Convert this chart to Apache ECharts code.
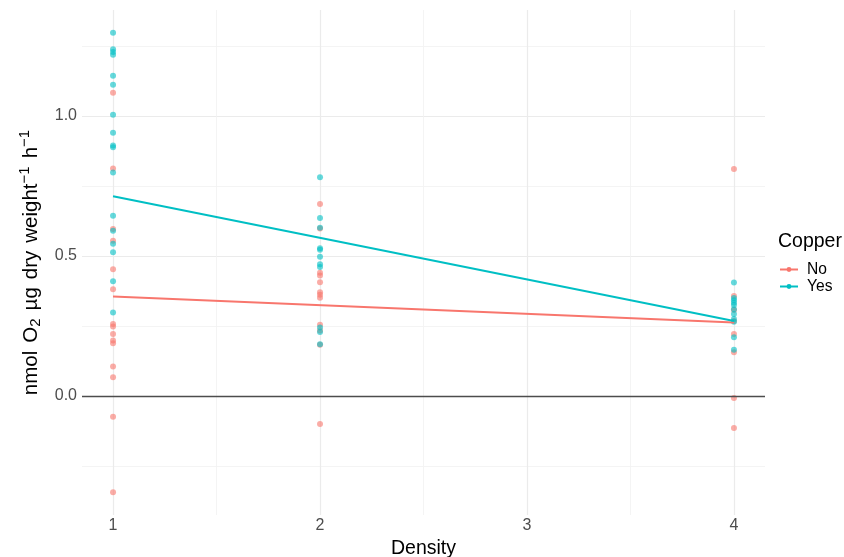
<!DOCTYPE html>
<html>
<head>
<meta charset="utf-8">
<script src="https://cdn.jsdelivr.net/npm/echarts@6/dist/echarts.min.js"></script>
<style>html,body{margin:0;padding:0;background:#fff;}#c{width:844px;height:557px;}</style>
</head>
<body>
<div id="c"></div>
<script>
// Density categories (x positions)
const densities = [1, 2, 4];
// Copper = No, observed values at each density
const noAt1 = [1.083, 0.812, 0.596, 0.554, 0.452, 0.381, 0.257, 0.248, 0.221, 0.198, 0.188, 0.105, 0.067, -0.074, -0.344];
const noAt2 = [0.685, 0.598, 0.440, 0.430, 0.406, 0.370, 0.361, 0.351, 0.254, 0.234, 0.183, -0.100];
const noAt4 = [0.810, 0.357, 0.307, 0.268, 0.221, 0.156, -0.007, -0.114];
// Copper = Yes, observed values at each density
const yesAt1 = [1.297, 1.238, 1.228, 1.218, 1.143, 1.111, 1.004, 0.940, 0.894, 0.888, 0.798, 0.643, 0.590, 0.543, 0.513, 0.410, 0.298];
const yesAt2 = [0.781, 0.635, 0.601, 0.527, 0.522, 0.497, 0.470, 0.460, 0.244, 0.228, 0.185];
const yesAt4 = [0.405, 0.350, 0.342, 0.333, 0.325, 0.310, 0.293, 0.275, 0.265, 0.210, 0.165];
// Linear fit values at the ends of the density range
const fitX = [1, 4];
const fitNo = [0.355, 0.262];
const fitYes = [0.713, 0.268];
// Ticks
const xTicks = [1, 2, 3, 4];
const xMinor = [1.5, 2.5, 3.5];
const yTicks = [0, 0.5, 1.0];
const yMinor = [-0.25, 0.25, 0.75, 1.25];
const groups = ['No', 'Yes'];

const COL_NO = '#F8766D', COL_YES = '#00BFC4';
function pts(lists) {
  const out = [];
  lists.forEach((vals, i) => vals.forEach(v => out.push([densities[i], v])));
  return out;
}
const noPts = pts([noAt1, noAt2, noAt4]);
const yesPts = pts([yesAt1, yesAt2, yesAt4]);

const FONT = 'Liberation Sans, Arial, sans-serif';
const XMIN = 0.85, XMAX = 4.15, YMIN = -0.425, YMAX = 1.378;

const chart = echarts.init(document.getElementById('c'), null, {renderer: 'canvas'});
chart.setOption({
  backgroundColor: '#fff',
  animation: false,
  textStyle: {fontFamily: FONT},
  grid: {left: 82, right: 79, top: 10, bottom: 42, containLabel: false, outerBoundsMode: 'none'},
  xAxis: [{
    type: 'value', min: XMIN, max: XMAX,
    name: 'Density', nameLocation: 'middle', nameGap: 20,
    nameTextStyle: {color: '#000', fontSize: 19.5, fontFamily: FONT},
    axisLine: {show: false}, axisTick: {show: false, customValues: xTicks},
    axisLabel: {customValues: xTicks, color: '#4D4D4D', fontSize: 16, margin: 3, fontFamily: FONT,
      formatter: v => String(v)},
    splitLine: {show: true, lineStyle: {color: '#EBEBEB', width: 1.2}}
  }, {
    type: 'value', min: XMIN, max: XMAX, position: 'bottom',
    axisLine: {show: false}, axisTick: {show: false, customValues: xMinor},
    axisLabel: {show: false, customValues: xMinor},
    splitLine: {show: true, lineStyle: {color: '#F1F1F1', width: 0.8}}
  }],
  yAxis: [{
    type: 'value', min: YMIN, max: YMAX,
    name: '{a|nmol}{g| }{a|O}{s|2}{g| }{a|µg}{g| }{a|dry}{g| }{a|weight}{p|−1}{g| }{a|h}{p|−1}',
    nameLocation: 'middle', nameGap: 38,
    nameTextStyle: {
      color: '#000', fontFamily: FONT,
      rich: {
        a: {fontSize: 20.5, color: '#000', fontFamily: FONT, lineHeight: 26, verticalAlign: 'middle'},
        g: {fontSize: 20, width: 8, lineHeight: 26, verticalAlign: 'middle'},
        s: {fontSize: 15, color: '#000', fontFamily: FONT, lineHeight: 15, verticalAlign: 'bottom'},
        p: {fontSize: 15, color: '#000', fontFamily: FONT, lineHeight: 15, verticalAlign: 'top'}
      }
    },
    axisLine: {show: false}, axisTick: {show: false, customValues: yTicks},
    axisLabel: {customValues: yTicks, color: '#4D4D4D', fontSize: 16, margin: 5, fontFamily: FONT,
      formatter: v => v.toFixed(1)},
    splitLine: {show: true, lineStyle: {color: '#EBEBEB', width: 1.2}}
  }, {
    type: 'value', min: YMIN, max: YMAX, position: 'left',
    axisLine: {show: false}, axisTick: {show: false, customValues: yMinor},
    axisLabel: {show: false, customValues: yMinor},
    splitLine: {show: true, lineStyle: {color: '#F1F1F1', width: 0.8}}
  }],
  legend: {
    data: groups, orient: 'vertical', left: 779, top: 261, itemGap: 0, padding: 0,
    itemWidth: 18, itemHeight: 6,
    textStyle: {fontSize: 15.6, lineHeight: 17, color: '#000', fontFamily: FONT, padding: [0, 0, 0, 4]}
  },
  graphic: [{
    type: 'text', left: 778, top: 232,
    style: {text: 'Copper', fontSize: 19.5, fill: '#000', fontFamily: FONT}
  }],
  series: [
    {
      name: 'zero', type: 'line', data: [], silent: true,
      markLine: {symbol: 'none', silent: true, label: {show: false},
        lineStyle: {color: '#4D4D4D', width: 1.3, type: 'solid'},
        data: [{yAxis: 0}]}
    },
    {
      name: 'No points', type: 'scatter', data: noPts, symbolSize: 6,
      itemStyle: {color: COL_NO, opacity: 0.6}
    },
    {
      name: 'Yes points', type: 'scatter', data: yesPts, symbolSize: 6,
      itemStyle: {color: COL_YES, opacity: 0.6}
    },
    {
      name: 'No', type: 'line', data: fitX.map((x, i) => [x, fitNo[i]]),
      showSymbol: false, symbol: 'circle', symbolSize: 6,
      lineStyle: {color: COL_NO, width: 2}, itemStyle: {color: COL_NO}
    },
    {
      name: 'Yes', type: 'line', data: fitX.map((x, i) => [x, fitYes[i]]),
      showSymbol: false, symbol: 'circle', symbolSize: 6,
      lineStyle: {color: COL_YES, width: 2}, itemStyle: {color: COL_YES}
    }
  ]
});
</script>
</body>
</html>
